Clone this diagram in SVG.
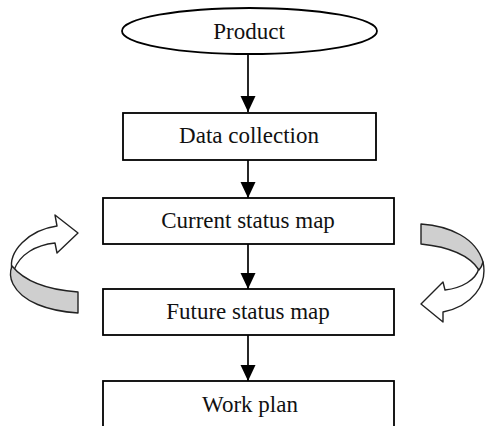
<svg xmlns="http://www.w3.org/2000/svg" width="485" height="426" viewBox="0 0 485 426">
  <defs>
    <marker id="head" markerUnits="userSpaceOnUse" markerWidth="16" markerHeight="16" refX="16" refY="7.5" orient="auto">
      <path d="M0,0 L16,7.5 L0,15 Z" fill="#000"/>
    </marker>
    <style>
      .box { fill: #fff; stroke: #000; stroke-width: 1.8; }
      .lbl { font-family: "Liberation Serif", "Times New Roman", serif; font-size: 23px; fill: #111; text-anchor: middle; }
      .flow { stroke: #000; stroke-width: 1.7; fill: none; marker-end: url(#head); }
      .ribbon { fill: #fff; stroke: #222; stroke-width: 1.4; stroke-linejoin: round; }
      .ribbon-under { fill: #cfcfcf; stroke: #222; stroke-width: 1.4; stroke-linejoin: round; }
    </style>
  </defs>

  <rect width="485" height="426" fill="#fff"/>

  <!-- connectors -->
  <g id="connectors">
    <line class="flow" x1="248" y1="53" x2="248" y2="112"/>
    <line class="flow" x1="248" y1="160" x2="248" y2="198"/>
    <line class="flow" x1="248" y1="244" x2="248" y2="289"/>
    <line class="flow" x1="248" y1="335" x2="248" y2="381"/>
  </g>

  <g id="product">
    <ellipse class="box" cx="249.5" cy="31" rx="127.5" ry="23"/>
    <text class="lbl" x="249" y="39">Product</text>
  </g>

  <g id="data-collection">
    <rect class="box" x="123" y="113" width="253" height="47"/>
    <text class="lbl" x="249" y="143">Data collection</text>
  </g>

  <g id="current-status-map">
    <rect class="box" x="103" y="198" width="291" height="46"/>
    <text class="lbl" x="248" y="228">Current status map</text>
  </g>

  <g id="future-status-map">
    <rect class="box" x="103" y="289" width="291" height="46"/>
    <text class="lbl" x="248" y="319">Future status map</text>
  </g>

  <g id="work-plan">
    <rect class="box" x="103" y="381" width="291" height="60"/>
    <text class="lbl" x="250" y="412">Work plan</text>
  </g>

  <!-- left loop arrow: future back to current -->
  <g id="loop-left">
    <path class="ribbon" d="M12,270 C8,252 28,230 57,226 L55,215 L78,233 L57,253 L55,243 C36,245 20,254 14,270 Z"/>
    <path class="ribbon-under" d="M12,266 C25,282 50,290 78,292 L78,313 C48,311 22,302 13,284 C10,278 10,271 12,266 Z"/>
  </g>

  <!-- right loop arrow: current forward to future -->
  <g id="loop-right">
    <path class="ribbon" d="M483,262 C488,285 472,306 443,312 L443,322 L421,304 L443,282 L445,290 C462,288 476,280 479,268 Z"/>
    <path class="ribbon-under" d="M421,224 C450,226 476,238 483,262 C482,266 481,268 479,270 C470,256 450,247 421,244 Z"/>
  </g>
</svg>
